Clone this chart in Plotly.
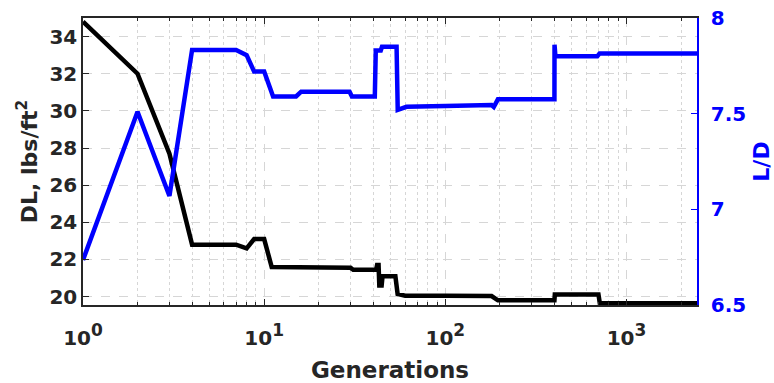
import plotly.graph_objects as go

# Black curve: DL (left axis)
gen_dl = [1, 2, 3, 4, 7, 8, 8.8, 10, 11, 15, 30, 31, 41.5, 42, 42.8, 43.2, 44.5, 45,
          53, 54.5, 60, 100, 180, 195, 400, 402, 700, 712, 2450]
dl = [34.8, 32.0, 27.7, 22.8, 22.8, 22.6, 23.1, 23.1, 21.6, 21.6, 21.55, 21.45, 21.45, 21.7, 21.7, 20.6,
      20.6, 21.1, 21.1, 20.15, 20.05, 20.05, 20.03, 19.8, 19.8, 20.12, 20.12, 19.65, 19.65]

# Blue curve: L/D (right axis)
gen_ld = [1, 2, 3, 4, 7, 8, 8.8, 10, 11.2, 15, 16, 29.6, 30.5, 40.8, 41.3, 44, 44.7, 53.8, 54.6,
          61, 100, 180, 185, 195, 400, 400.5, 405, 690, 710, 2450]
ld = [6.735, 7.51, 7.07, 7.833, 7.833, 7.806, 7.72, 7.72, 7.59, 7.59, 7.615, 7.615, 7.59, 7.59, 7.83,
      7.83, 7.85, 7.85, 7.52, 7.536, 7.54, 7.545, 7.535, 7.575, 7.575, 7.86, 7.80, 7.80, 7.815, 7.815]

x_major = [1, 10, 100, 1000]
x_exponents = ["0", "1", "2", "3"]
x_minor = [m * d for d in [1, 10, 100, 1000] for m in range(2, 10)]
dl_ticks = [20, 22, 24, 26, 28, 30, 32, 34]
ld_ticks = [6.5, 7, 7.5, 8]
ld_text = ["6.5", "7", "7.5", "8"]

FONT = "DejaVu Sans"
DARK = "#262626"
GRID = "#d6d6d6"
BLUE = "#0000ff"

x_major_text = ["10<sup><span style='font-size:17px'>%s</span></sup>" % e for e in x_exponents]

fig = go.Figure()
fig.add_trace(go.Scatter(x=gen_dl, y=dl, mode="lines", line=dict(color="black", width=4.5),
                         yaxis="y", showlegend=False))
fig.add_trace(go.Scatter(x=gen_ld, y=ld, mode="lines", line=dict(color=BLUE, width=4.5),
                         yaxis="y2", showlegend=False))

fig.update_layout(
    width=774, height=383,
    margin=dict(l=83, r=77, t=18, b=78),
    paper_bgcolor="white", plot_bgcolor="white",
    font=dict(family=FONT, size=20, color=DARK),
    xaxis=dict(
        type="log", range=[0, 3.389], automargin=False,
        tickmode="array", tickvals=x_major, ticktext=x_major_text,
        tickfont=dict(family=FONT, size=20, color=DARK, weight="bold"),
        ticklabelstandoff=14,
        showgrid=True, gridcolor=GRID, griddash="dash", gridwidth=1,
        showline=True, linecolor=DARK, linewidth=1.5, mirror="ticks",
        ticks="inside", ticklen=6, tickcolor=DARK,
        minor=dict(tickmode="array", tickvals=x_minor, showgrid=True, gridcolor=GRID,
                   griddash="dot", gridwidth=1, ticks="inside", ticklen=3, tickcolor=DARK),
        title=dict(text="Generations", font=dict(family=FONT, size=23, color=DARK, weight="bold"),
                   standoff=14),
        zeroline=False,
    ),
    yaxis=dict(
        range=[19.55, 35.0], automargin=False,
        tickmode="array", tickvals=dl_ticks,
        tickfont=dict(family=FONT, size=20, color=DARK, weight="bold"),
        showgrid=True, gridcolor=GRID, griddash="dash", gridwidth=1,
        showline=True, linecolor=DARK, linewidth=1.5,
        ticks="inside", ticklen=6, tickcolor=DARK,
        title=dict(text="DL, lbs/ft<sup>2</sup>", font=dict(family=FONT, size=22, color=DARK, weight="bold"),
                   standoff=6),
        zeroline=False,
    ),
    yaxis2=dict(
        overlaying="y", side="right", automargin=False,
        range=[6.5, 8.0],
        tickmode="array", tickvals=ld_ticks, ticktext=ld_text,
        tickfont=dict(family=FONT, size=20, color=BLUE, weight="bold"),
        ticklabelstandoff=8,
        showgrid=False,
        showline=True, linecolor=BLUE, linewidth=1.5,
        ticks="inside", ticklen=6, tickcolor=BLUE,
        title=dict(text="L/D", font=dict(family=FONT, size=22, color=BLUE, weight="bold"),
                   standoff=16),
        zeroline=False,
    ),
)

fig.write_html("out.html")
